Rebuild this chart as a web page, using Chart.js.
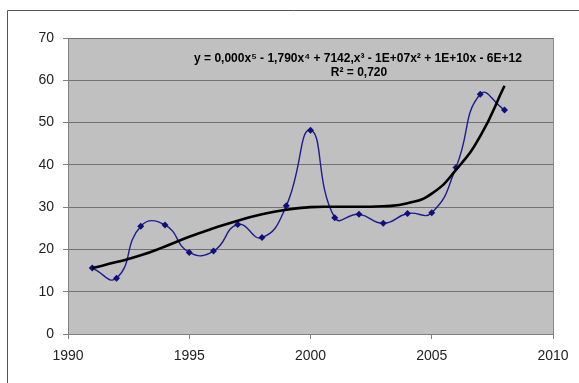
<!DOCTYPE html>
<html>
<head>
<meta charset="utf-8">
<script src="https://cdn.jsdelivr.net/npm/chart.js@4/dist/chart.umd.min.js"></script>
<style>
    html, body { margin: 0; padding: 0; background: #fff; }
    #wrap { width: 579px; height: 383px; }
</style>
</head>
<body>
<div id="wrap"><canvas id="chart" width="579" height="383"></canvas></div>
<script>
// 年份
const years = [1991, 1992, 1993, 1994, 1995, 1996, 1997, 1998, 1999,
    2000, 2001, 2002, 2003, 2004, 2005, 2006, 2007, 2008];

// 观测值
const values = [15.6, 13.2, 25.5, 25.8, 19.3, 19.6, 25.9, 22.8, 30.3,
    48.2, 27.5, 28.3, 26.2, 28.5, 28.7, 39.4, 56.7, 53.0];

// 趋势线
const trendValues = [15.6, 17.0, 18.6, 20.7, 23.0, 25.0, 26.8, 28.3, 29.4,
    30.0, 30.1, 30.1, 30.2, 30.9, 33.2, 38.8, 46.8, 58.7];

const xTicks = [1990, 1995, 2000, 2005, 2010];
const yTicks = [0, 10, 20, 30, 40, 50, 60, 70];

const equationText = 'y = 0,000x\u2075 - 1,790x\u2074 + 7142,x\u00B3 - 1E+07x\u00B2 + 1E+10x - 6E+12';
const r2Text = 'R\u00B2 = 0,720';

// 绘图区背景和外框
const backgroundPlugin = {
    id: 'plotBackground',
    beforeDraw(chart) {
        const { ctx, chartArea } = chart;
        ctx.save();
        ctx.fillStyle = '#c0c0c0';
        ctx.fillRect(chartArea.left, chartArea.top, chartArea.right - chartArea.left, chartArea.bottom - chartArea.top);
        ctx.strokeStyle = '#8a8a8a';
        ctx.lineWidth = 1;
        ctx.strokeRect(chartArea.left + 0.5, chartArea.top + 0.5, chartArea.right - chartArea.left, chartArea.bottom - chartArea.top);
        // 外框
        ctx.strokeStyle = '#555';
        ctx.beginPath();
        ctx.moveTo(7.5, 383);
        ctx.lineTo(7.5, 10.5);
        ctx.lineTo(579, 10.5);
        ctx.stroke();
        ctx.restore();
    }
};

// 趋势线公式
const equationPlugin = {
    id: 'equation',
    afterDatasetsDraw(chart) {
        const { ctx } = chart;
        ctx.save();
        ctx.fillStyle = '#000';
        ctx.font = 'bold 12px "Liberation Sans", Arial, sans-serif';
        ctx.textAlign = 'center';
        ctx.textBaseline = 'alphabetic';
        ctx.fillText(equationText, 358, 62);
        ctx.fillText(r2Text, 359, 76);
        ctx.restore();
    }
};

const ctx = document.getElementById('chart').getContext('2d');

new Chart(ctx, {
    type: 'line',
    data: {
        datasets: [{
            label: 'data',
            data: years.map((x, i) => ({ x: x, y: values[i] })),
            borderColor: '#1c1c8e',
            backgroundColor: '#10107a',
            borderWidth: 1.4,
            tension: 0.5,
            pointStyle: 'rectRot',
            pointRadius: 3.5,
            pointBorderWidth: 0,
            order: 2
        }, {
            label: 'trend',
            data: years.map((x, i) => ({ x: x, y: trendValues[i] })),
            borderColor: '#000',
            borderWidth: 2.6,
            tension: 0.5,
            pointRadius: 0,
            order: 1
        }]
    },
    options: {
        responsive: false,
        animation: false,
        layout: {
            padding: { left: 0, top: 38, right: 26, bottom: 0 }
        },
        plugins: {
            legend: { display: false },
            tooltip: { enabled: false }
        },
        scales: {
            x: {
                type: 'linear',
                min: 1990,
                max: 2010,
                afterBuildTicks: scale => { scale.ticks = xTicks.map(v => ({ value: v })); },
                afterFit: scale => { scale.height = 49; },
                grid: {
                    drawOnChartArea: false,
                    drawTicks: true,
                    tickLength: 5,
                    tickColor: '#808080'
                },
                border: { color: '#808080', width: 1 },
                ticks: {
                    padding: 9,
                    color: '#222',
                    font: { family: '"Liberation Sans", Arial, sans-serif', size: 14 },
                    callback: v => String(v)
                }
            },
            y: {
                min: 0,
                max: 70,
                afterBuildTicks: scale => { scale.ticks = yTicks.map(v => ({ value: v })); },
                afterFit: scale => { scale.width = 68; },
                grid: {
                    color: '#707070',
                    drawTicks: true,
                    tickLength: 5,
                    tickColor: '#808080'
                },
                border: { color: '#808080', width: 1 },
                ticks: {
                    padding: 9,
                    color: '#222',
                    font: { family: '"Liberation Sans", Arial, sans-serif', size: 14 }
                }
            }
        }
    },
    plugins: [backgroundPlugin, equationPlugin]
});
</script>
</body>
</html>
